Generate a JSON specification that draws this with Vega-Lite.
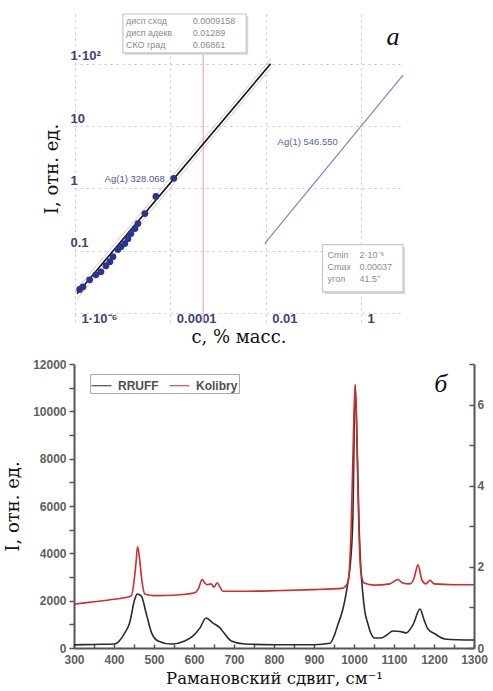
{
  "$schema": "https://vega.github.io/schema/vega-lite/v6.json",
  "padding": {"left": 4, "top": 13, "right": 0, "bottom": 0},
  "background": "white",
  "bounds": "flush",
  "spacing": 41,
  "config": {"view": {"stroke": null}, "font": "Liberation Sans"},
  "vconcat": [
    {
      "width": 329,
      "height": 309,
      "encoding": {
        "x": {"field": "c", "type": "quantitative", "scale": {"type": "log", "domain": [9.53e-7, 7.6]},
          "axis": {"values": [1e-6, 0.0001, 0.01, 1], "labelExpr": "datum.value >= 0.5 ? '1' : datum.value >= 0.005 ? '0.01' : datum.value >= 0.00005 ? '0.0001' : '1·10⁻⁶'",
            "domain": false, "ticks": false, "grid": true, "gridColor": "#c4c4c4", "gridDash": [2, 4],
            "labelAlign": "left", "labelOffset": 6, "labelPadding": -5, "labelBaseline": "middle", "labelFlush": false, "labelOverlap": false,
            "labelFont": "Liberation Sans", "labelFontWeight": "bold", "labelFontSize": 13, "labelColor": "#3d4378",
            "title": "c, % масс.", "titleFont": "DejaVu Serif", "titleFontSize": 18, "titleFontWeight": "normal", "titleColor": "#111", "titlePadding": 3}},
        "y": {"field": "I", "type": "quantitative", "scale": {"type": "log", "domain": [0.0069, 631]},
          "axis": {"values": [0.01, 0.1, 1, 10, 100], "labelExpr": "datum.value >= 50 ? '1·10²' : datum.value >= 5 ? '10' : datum.value >= 0.5 ? '1' : datum.value >= 0.05 ? '0.1' : ''",
            "domain": false, "ticks": false, "grid": true, "gridColor": "#c4c4c4", "gridDash": [2, 4],
            "labelAlign": "left", "labelPadding": 4, "labelBaseline": "middle", "labelOffset": -8, "labelFlush": false, "labelOverlap": false,
            "labelFont": "Liberation Sans", "labelFontWeight": "bold", "labelFontSize": 13, "labelColor": "#3d4378",
            "title": "I, отн. ед.", "titleFont": "DejaVu Serif", "titleFontSize": 18, "titleFontWeight": "normal", "titleColor": "#111", "titlePadding": 9}}
      },
      "layer": [
        {
          "data": {"values": [{"c": 0.00049, "I": 0.0069, "I2": 631}]},
          "mark": {"type": "rule", "color": "#f2aab6", "strokeWidth": 1.2},
          "encoding": {"y2": {"field": "I2"}}
        },
        {
          "data": {"values": [
            {"s": "u", "c": 1.1e-6, "I": 0.0245}, {"s": "u", "c": 0.0127, "I": 118},
            {"s": "l", "c": 1.1e-6, "I": 0.0168}, {"s": "l", "c": 0.0127, "I": 85}
          ]},
          "mark": {"type": "line", "color": "#dcc4c8", "strokeWidth": 1},
          "encoding": {"detail": {"field": "s"}}
        },
        {
          "data": {"values": [{"c": 1.1e-6, "I": 0.0203}, {"c": 0.0127, "I": 100}]},
          "mark": {"type": "line", "color": "#111111", "strokeWidth": 1.6},
          "encoding": {}
        },
        {
          "data": {"values": [{"c": 0.0095, "I": 0.13}, {"c": 7.6, "I": 66}]},
          "mark": {"type": "line", "color": "#7c84c8", "strokeWidth": 1.2},
          "encoding": {}
        },
        {
          "data": {"values": [
            {"c": 1.25e-6, "I": 0.0238}, {"c": 1.47e-6, "I": 0.0263}, {"c": 2.03e-6, "I": 0.034},
            {"c": 2.75e-6, "I": 0.041}, {"c": 3.5e-6, "I": 0.0458}, {"c": 4.46e-6, "I": 0.0573},
            {"c": 5.4e-6, "I": 0.0665}, {"c": 6.25e-6, "I": 0.08}, {"c": 7.95e-6, "I": 0.104},
            {"c": 9.2e-6, "I": 0.116}, {"c": 1.11e-5, "I": 0.13}, {"c": 1.29e-5, "I": 0.156},
            {"c": 1.49e-5, "I": 0.188}, {"c": 1.81e-5, "I": 0.226}, {"c": 2.09e-5, "I": 0.272},
            {"c": 2.92e-5, "I": 0.395}, {"c": 4.97e-5, "I": 0.743}, {"c": 1.18e-4, "I": 1.45}
          ]},
          "mark": {"type": "circle", "color": "#2a3590", "opacity": 1, "size": 46}
        },
        {
          "data": {"values": [
            {"c": 1.01e-5, "c2": 0.0039, "I": 150, "I2": 631},
            {"c": 0.156, "c2": 7.6, "I": 0.0218, "I2": 0.125}
          ]},
          "mark": {"type": "rect", "fill": "#d6d6d6", "stroke": null, "xOffset": 2, "x2Offset": 2, "yOffset": 2, "y2Offset": 2},
          "encoding": {"x2": {"field": "c2"}, "y2": {"field": "I2"}}
        },
        {
          "data": {"values": [
            {"c": 1.01e-5, "c2": 0.0039, "I": 150, "I2": 631},
            {"c": 0.156, "c2": 7.6, "I": 0.0218, "I2": 0.125}
          ]},
          "mark": {"type": "rect", "fill": "white", "stroke": "#c8c8c8", "strokeWidth": 1.2},
          "encoding": {"x2": {"field": "c2"}, "y2": {"field": "I2"}}
        },
        {
          "data": {"values": [
            {"c": 1.17e-5, "I": 494, "t": "дисп сход"}, {"c": 2.96e-4, "I": 494, "t": "0.0009158"},
            {"c": 1.17e-5, "I": 316, "t": "дисп адекв"}, {"c": 2.96e-4, "I": 316, "t": "0.01289"},
            {"c": 1.17e-5, "I": 202, "t": "СКО град"}, {"c": 2.96e-4, "I": 202, "t": "0.06861"},
            {"c": 0.199, "I": 0.0863, "t": "Cmin"}, {"c": 0.93, "I": 0.0863, "t": "2·10⁻⁶"},
            {"c": 0.199, "I": 0.0552, "t": "Cmax"}, {"c": 0.93, "I": 0.0552, "t": "0.00037"},
            {"c": 0.199, "I": 0.0353, "t": "угол"}, {"c": 0.93, "I": 0.0353, "t": "41.5°"}
          ]},
          "mark": {"type": "text", "align": "left", "baseline": "middle", "font": "Liberation Sans", "fontSize": 9, "color": "#8c8c8c"},
          "encoding": {"text": {"field": "t"}}
        },
        {
          "data": {"values": [{"c": 7.67e-5, "I": 1.4, "t": "Ag(1) 328.068"}]},
          "mark": {"type": "text", "align": "right", "baseline": "middle", "font": "Liberation Sans", "fontSize": 9.5, "color": "#4f5580"},
          "encoding": {"text": {"field": "t"}}
        },
        {
          "data": {"values": [{"c": 0.0178, "I": 5.5, "t": "Ag(1) 546.550"}]},
          "mark": {"type": "text", "align": "left", "baseline": "middle", "font": "Liberation Sans", "fontSize": 9.5, "color": "#5862ad"},
          "encoding": {"text": {"field": "t"}}
        },
        {
          "data": {"values": [{"c": 4.7, "I": 265, "t": "a"}]},
          "mark": {"type": "text", "align": "center", "baseline": "middle", "font": "Liberation Serif", "fontStyle": "italic", "fontSize": 26, "color": "#111"},
          "encoding": {"text": {"field": "t"}}
        }
      ]
    },
    {
      "width": 400,
      "height": 284,
      "encoding": {
        "x": {"field": "w", "type": "quantitative", "scale": {"domain": [300, 1300]},
          "axis": {"values": [300, 350, 400, 450, 500, 550, 600, 650, 700, 750, 800, 850, 900, 950, 1000, 1050, 1100, 1150, 1200, 1250, 1300],
            "format": "d", "labelExpr": "datum.value % 100 == 0 ? datum.label : ''",
            "domain": true, "domainColor": "#555", "domainWidth": 2, "tickColor": "#555", "tickWidth": 1.5, "tickSize": -4,
            "labelPadding": 10, "labelFlush": false, "labelOverlap": false,
            "labelFont": "Liberation Sans", "labelFontWeight": "bold", "labelFontSize": 12, "labelColor": "#606060", "grid": false,
            "title": "Рамановский сдвиг, см⁻¹", "titleFont": "DejaVu Serif", "titleFontSize": 16.5, "titleFontWeight": "normal", "titleColor": "#111", "titlePadding": 5}}
      },
      "layer": [
        {
          "data": {"values": [
            {"w": 300, "v": 130}, {"w": 350, "v": 150}, {"w": 402, "v": 170}, {"w": 427, "v": 640},
            {"w": 439, "v": 1060}, {"w": 452, "v": 2070}, {"w": 458, "v": 2280}, {"w": 468, "v": 2200},
            {"w": 481, "v": 1430}, {"w": 494, "v": 640}, {"w": 510, "v": 300}, {"w": 543, "v": 170},
            {"w": 577, "v": 300}, {"w": 597, "v": 500}, {"w": 615, "v": 850}, {"w": 630, "v": 1270},
            {"w": 647, "v": 1060}, {"w": 665, "v": 850}, {"w": 677, "v": 590}, {"w": 693, "v": 300},
            {"w": 727, "v": 170}, {"w": 800, "v": 140}, {"w": 900, "v": 140}, {"w": 940, "v": 200},
            {"w": 950, "v": 500}, {"w": 960, "v": 1000}, {"w": 970, "v": 1500}, {"w": 977, "v": 2000},
            {"w": 985, "v": 2800}, {"w": 990, "v": 3400}, {"w": 997, "v": 5400}, {"w": 1003, "v": 11100},
            {"w": 1010, "v": 7000}, {"w": 1013, "v": 5000}, {"w": 1017, "v": 3400}, {"w": 1022, "v": 2300},
            {"w": 1027, "v": 1560}, {"w": 1035, "v": 1000}, {"w": 1040, "v": 720}, {"w": 1052, "v": 420},
            {"w": 1068, "v": 420}, {"w": 1082, "v": 550}, {"w": 1097, "v": 720}, {"w": 1115, "v": 700},
            {"w": 1130, "v": 640}, {"w": 1148, "v": 1000}, {"w": 1165, "v": 1650}, {"w": 1175, "v": 1200},
            {"w": 1185, "v": 800}, {"w": 1202, "v": 600}, {"w": 1227, "v": 380}, {"w": 1260, "v": 350},
            {"w": 1300, "v": 340}
          ]},
          "mark": {"type": "line", "strokeWidth": 1.6, "interpolate": "monotone"},
          "encoding": {
            "y": {"field": "v", "type": "quantitative", "scale": {"domain": [0, 12000]},
              "axis": {"values": [0, 1000, 2000, 3000, 4000, 5000, 6000, 7000, 8000, 9000, 10000, 11000, 12000],
                "format": "d", "labelExpr": "datum.value % 2000 == 0 ? datum.label : ''",
                "domain": true, "domainColor": "#555", "domainWidth": 2, "tickColor": "#555", "tickWidth": 1.5, "tickSize": 5,
                "labelPadding": 3, "labelOverlap": false, "labelFlush": false,
                "labelFont": "Liberation Sans", "labelFontWeight": "bold", "labelFontSize": 12, "labelColor": "#606060", "grid": false,
                "title": "I, отн. ед.", "titleFont": "DejaVu Serif", "titleFontSize": 18, "titleFontWeight": "normal", "titleColor": "#111", "titlePadding": 10}},
            "color": {"datum": "RRUFF", "type": "nominal",
              "scale": {"domain": ["RRUFF", "Kolibry"], "range": ["#2b2b2b", "#d42a2a"]},
              "legend": {"orient": "none", "legendX": 16, "legendY": 360, "direction": "horizontal", "title": null,
                "symbolType": "stroke", "symbolSize": 400, "symbolStrokeWidth": 1,
                "labelFont": "Liberation Sans", "labelFontWeight": "bold", "labelFontSize": 12, "labelColor": "#505050",
                "strokeColor": "#aaaaaa", "padding": 1, "columnPadding": 8, "labelOffset": 6}}
          }
        },
        {
          "data": {"values": [
            {"w": 300, "r": 1.08}, {"w": 350, "r": 1.14}, {"w": 400, "r": 1.2}, {"w": 443, "r": 1.28},
            {"w": 450, "r": 1.64}, {"w": 455, "r": 2.1}, {"w": 459, "r": 2.5}, {"w": 465, "r": 2.1},
            {"w": 470, "r": 1.64}, {"w": 477, "r": 1.33}, {"w": 500, "r": 1.29}, {"w": 550, "r": 1.3},
            {"w": 602, "r": 1.36}, {"w": 612, "r": 1.48}, {"w": 620, "r": 1.69}, {"w": 627, "r": 1.6},
            {"w": 633, "r": 1.56}, {"w": 643, "r": 1.58}, {"w": 650, "r": 1.5}, {"w": 658, "r": 1.61},
            {"w": 665, "r": 1.5}, {"w": 672, "r": 1.4}, {"w": 735, "r": 1.4}, {"w": 800, "r": 1.41},
            {"w": 900, "r": 1.44}, {"w": 970, "r": 1.47}, {"w": 985, "r": 1.62}, {"w": 993, "r": 3.0},
            {"w": 999, "r": 5.4}, {"w": 1003, "r": 6.5}, {"w": 1007, "r": 5.3}, {"w": 1012, "r": 3.0},
            {"w": 1017, "r": 1.9}, {"w": 1025, "r": 1.6}, {"w": 1050, "r": 1.55}, {"w": 1090, "r": 1.58},
            {"w": 1100, "r": 1.64}, {"w": 1110, "r": 1.69}, {"w": 1120, "r": 1.61}, {"w": 1140, "r": 1.58},
            {"w": 1150, "r": 1.72}, {"w": 1160, "r": 2.05}, {"w": 1170, "r": 1.67}, {"w": 1180, "r": 1.58},
            {"w": 1190, "r": 1.67}, {"w": 1200, "r": 1.58}, {"w": 1250, "r": 1.56}, {"w": 1300, "r": 1.56}
          ]},
          "mark": {"type": "line", "strokeWidth": 1.6, "interpolate": "monotone"},
          "encoding": {
            "y": {"field": "r", "type": "quantitative", "scale": {"domain": [0, 7]},
              "axis": {"orient": "right", "values": [0, 1, 2, 3, 4, 5, 6, 7], "labelExpr": "datum.value % 2 == 0 ? datum.label : ''",
                "domain": true, "domainColor": "#555", "domainWidth": 2, "tickColor": "#555", "tickWidth": 1.5, "tickSize": -5,
                "labelPadding": 8, "labelOverlap": false, "labelFlush": false,
                "labelFont": "Liberation Sans", "labelFontWeight": "bold", "labelFontSize": 12, "labelColor": "#606060", "grid": false, "title": null}},
            "color": {"datum": "Kolibry", "type": "nominal"}
          }
        },
        {
          "data": {"values": [{"w": 1217, "v": 11150, "t": "б"}]},
          "mark": {"type": "text", "align": "center", "baseline": "middle", "font": "Liberation Serif", "fontStyle": "italic", "fontSize": 26, "color": "#111"},
          "encoding": {
            "y": {"field": "v", "type": "quantitative", "scale": {"domain": [0, 12000]}, "axis": null},
            "text": {"field": "t"}
          }
        }
      ],
      "resolve": {"scale": {"y": "independent"}}
    }
  ]
}
